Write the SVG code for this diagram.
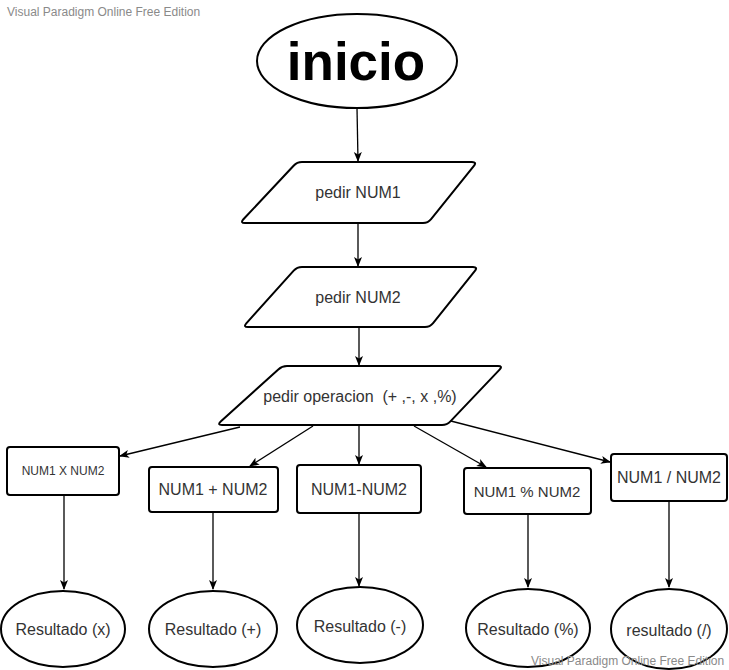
<svg xmlns="http://www.w3.org/2000/svg" width="729" height="670" viewBox="0 0 729 670">
<defs>
<style>
.shape{fill:#fff;stroke:#000;stroke-width:2}
.lbl{font-family:"Liberation Sans",Arial,sans-serif;font-size:16px;fill:#333;text-anchor:middle;white-space:pre}
.wm{font-family:"Liberation Sans",Arial,sans-serif;font-size:12px;fill:#8a8a8a}
.conn{stroke:#000;stroke-width:1.3;fill:none;marker-end:url(#arr)}
</style>
<marker id="arr" viewBox="0 0 10 10" refX="9" refY="5" markerWidth="10" markerHeight="10" markerUnits="userSpaceOnUse" orient="auto">
<path d="M0,1 L10,5 L0,9 L2.5,5 Z" fill="#000"/>
</marker>
</defs>
<rect width="729" height="670" fill="#fff"/>
<text class="wm" x="7" y="16">Visual Paradigm Online Free Edition</text>

<g id="connectors">
<line class="conn" x1="357" y1="108" x2="358" y2="161"/>
<line class="conn" x1="358" y1="223" x2="358" y2="266"/>
<line class="conn" x1="359" y1="327" x2="359" y2="365"/>
<line class="conn" x1="240" y1="427" x2="120" y2="456"/>
<line class="conn" x1="313" y1="426" x2="250" y2="466"/>
<line class="conn" x1="359" y1="426" x2="359" y2="464"/>
<line class="conn" x1="414" y1="426" x2="486" y2="467"/>
<line class="conn" x1="447" y1="420" x2="610" y2="462"/>
<line class="conn" x1="64" y1="495" x2="64" y2="589"/>
<line class="conn" x1="213" y1="512" x2="213" y2="589"/>
<line class="conn" x1="359" y1="513" x2="359" y2="586"/>
<line class="conn" x1="528" y1="514" x2="528" y2="587"/>
<line class="conn" x1="669" y1="501" x2="669" y2="587"/>
</g>

<g id="inicio">
<ellipse class="shape" cx="357" cy="61" rx="100" ry="47"/>
<text x="356" y="80" font-family="Liberation Sans,Arial,sans-serif" font-size="53" font-weight="bold" fill="#000" text-anchor="middle">inicio</text>
</g>

<g id="pedir-num1">
<path class="shape" d="M302,162 L472,162 Q477,162 473.9,165.9 L431.1,219.1 Q428,223 423,223 L245,223 Q240,223 243.4,219.3 L293.6,165.7 Q297,162 302,162 Z"/>
<text class="lbl" x="358" y="198">pedir NUM1</text>
</g>

<g id="pedir-num2">
<path class="shape" d="M302,267 L473,267 Q478,267 474.9,270.9 L433.1,323.1 Q430,327 425,327 L248,327 Q243,327 246.3,323.3 L293.7,270.7 Q297,267 302,267 Z"/>
<text class="lbl" x="358" y="303">pedir NUM2</text>
</g>

<g id="pedir-operacion">
<path class="shape" d="M287,366 L498,366 Q503,366 499.6,369.6 L450.4,421.4 Q447,425 442,425 L222,425 Q217,425 220.7,421.6 L278.3,369.4 Q282,366 287,366 Z"/>
<text class="lbl" x="360" y="402">pedir operacion  (+ ,-, x ,%)</text>
</g>

<g id="box-mult">
<rect class="shape" x="7" y="447" width="112" height="48" rx="3"/>
<text class="lbl" x="63" y="475" style="font-size:12px">NUM1 X NUM2</text>
</g>
<g id="box-sum">
<rect class="shape" x="149" y="467" width="129" height="45" rx="3"/>
<text class="lbl" x="213" y="495">NUM1 + NUM2</text>
</g>
<g id="box-rest">
<rect class="shape" x="297" y="465" width="124" height="48" rx="3"/>
<text class="lbl" x="359" y="495">NUM1-NUM2</text>
</g>
<g id="box-mod">
<rect class="shape" x="464" y="468" width="127" height="46" rx="3"/>
<text class="lbl" x="527" y="497" style="font-size:15px">NUM1 % NUM2</text>
</g>
<g id="box-div">
<rect class="shape" x="611" y="454" width="116" height="47" rx="3"/>
<text class="lbl" x="669" y="483">NUM1 / NUM2</text>
</g>

<g id="res-mult">
<ellipse class="shape" cx="63" cy="629" rx="62" ry="38"/>
<text class="lbl" x="63" y="635">Resultado (x)</text>
</g>
<g id="res-sum">
<ellipse class="shape" cx="213" cy="629" rx="64" ry="38"/>
<text class="lbl" x="213" y="635">Resultado (+)</text>
</g>
<g id="res-rest">
<ellipse class="shape" cx="360" cy="625" rx="63" ry="38"/>
<text class="lbl" x="360" y="632">Resultado (-)</text>
</g>
<g id="res-mod">
<ellipse class="shape" cx="528" cy="628" rx="62" ry="39"/>
<text class="lbl" x="528" y="635">Resultado (%)</text>
</g>
<g id="res-div">
<ellipse class="shape" cx="669" cy="629" rx="58" ry="40"/>
<text class="lbl" x="669" y="636">resultado (/)</text>
</g>

<text class="wm" x="531" y="665">Visual Paradigm Online Free Edition</text>
</svg>
